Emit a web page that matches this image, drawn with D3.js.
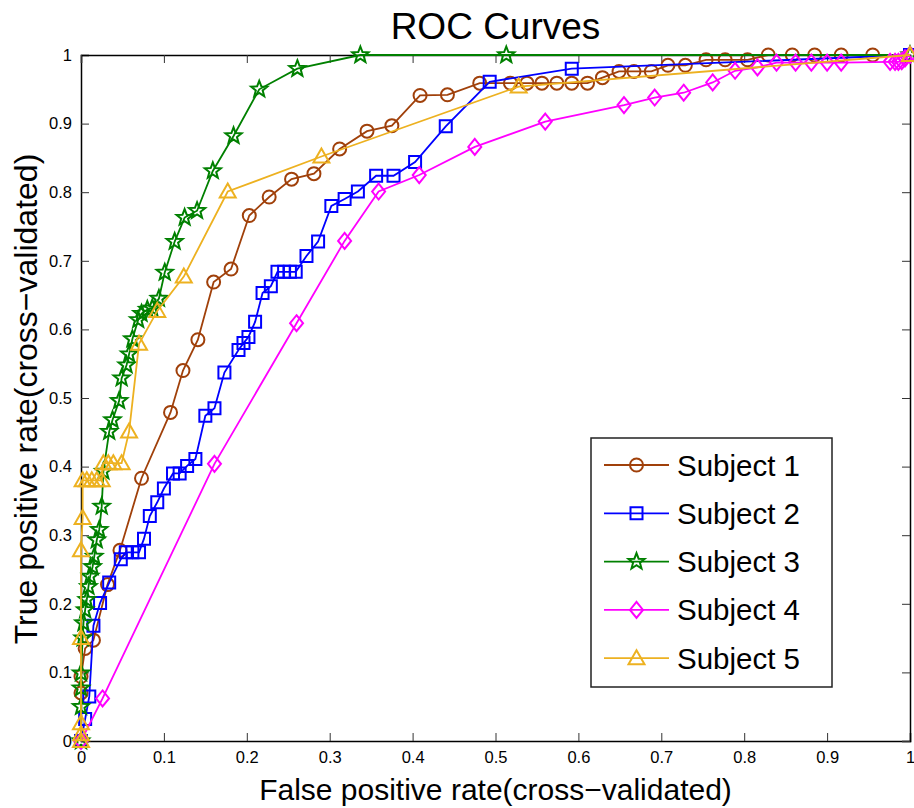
<!DOCTYPE html>
<html>
<head>
<meta charset="utf-8">
<script src="https://cdn.jsdelivr.net/npm/d3@7"></script>
<style>
  body { margin: 0; background: #fff; }
  text { font-family: "Liberation Sans", Arial, Helvetica, sans-serif; }
</style>
</head>
<body>
<div id="chart"></div>
<script>
// ROC points (false positive rate, true positive rate)
var s1x = [0, 0, 0, 0.005, 0.015, 0.032, 0.047, 0.073, 0.108, 0.123, 0.141, 0.160, 0.181, 0.203, 0.227, 0.254, 0.281, 0.312, 0.345, 0.375, 0.409, 0.442, 0.481, 0.518, 0.538, 0.556, 0.574, 0.592, 0.611, 0.629, 0.649, 0.667, 0.688, 0.708, 0.729, 0.754, 0.777, 0.804, 0.829, 0.858, 0.885, 0.917, 0.955, 1];
var s1y = [0, 0.070, 0.094, 0.135, 0.147, 0.228, 0.278, 0.383, 0.479, 0.540, 0.585, 0.669, 0.688, 0.766, 0.793, 0.819, 0.827, 0.863, 0.889, 0.897, 0.941, 0.942, 0.959, 0.959, 0.959, 0.959, 0.959, 0.959, 0.959, 0.967, 0.976, 0.976, 0.976, 0.985, 0.985, 0.993, 0.993, 0.993, 1, 1, 1, 1, 1, 1];

var s2x = [0, 0.005, 0.010, 0.015, 0.023, 0.034, 0.048, 0.054, 0.062, 0.070, 0.076, 0.083, 0.092, 0.100, 0.111, 0.119, 0.128, 0.138, 0.150, 0.161, 0.173, 0.190, 0.196, 0.202, 0.210, 0.219, 0.229, 0.237, 0.245, 0.252, 0.259, 0.272, 0.286, 0.302, 0.318, 0.334, 0.356, 0.377, 0.403, 0.440, 0.493, 0.592, 1];
var s2y = [0, 0.032, 0.065, 0.168, 0.201, 0.231, 0.265, 0.275, 0.275, 0.275, 0.295, 0.328, 0.348, 0.368, 0.390, 0.390, 0.401, 0.411, 0.474, 0.485, 0.537, 0.570, 0.580, 0.589, 0.611, 0.653, 0.663, 0.684, 0.684, 0.684, 0.684, 0.707, 0.728, 0.780, 0.790, 0.801, 0.824, 0.824, 0.844, 0.896, 0.961, 0.980, 1];

var s3x = [0, 0, 0, 0, 0.002, 0.003, 0.005, 0.007, 0.009, 0.011, 0.014, 0.016, 0.019, 0.022, 0.025, 0.027, 0.034, 0.038, 0.046, 0.049, 0.055, 0.058, 0.062, 0.069, 0.073, 0.080, 0.086, 0.094, 0.101, 0.113, 0.125, 0.140, 0.159, 0.184, 0.215, 0.261, 0.337, 0.513, 1];
var s3y = [0, 0.050, 0.077, 0.099, 0.150, 0.172, 0.191, 0.206, 0.225, 0.240, 0.254, 0.269, 0.293, 0.308, 0.342, 0.393, 0.451, 0.468, 0.496, 0.529, 0.548, 0.564, 0.586, 0.614, 0.623, 0.629, 0.631, 0.645, 0.683, 0.728, 0.763, 0.773, 0.831, 0.882, 0.950, 0.980, 1, 1, 1];

var s4x = [0, 0.026, 0.161, 0.260, 0.318, 0.359, 0.408, 0.475, 0.560, 0.655, 0.692, 0.727, 0.762, 0.789, 0.816, 0.839, 0.862, 0.881, 0.900, 0.917, 0.976, 0.982, 0.986, 0.990, 0.994, 1];
var s4y = [0, 0.062, 0.404, 0.609, 0.729, 0.801, 0.825, 0.866, 0.903, 0.927, 0.938, 0.945, 0.960, 0.977, 0.982, 0.989, 0.989, 0.989, 0.989, 0.989, 0.990, 0.990, 0.990, 0.991, 0.995, 1];

var s5x = [0, 0, 0, 0, 0, 0.002, 0.002, 0.007, 0.013, 0.019, 0.025, 0.027, 0.033, 0.039, 0.049, 0.058, 0.070, 0.092, 0.124, 0.177, 0.290, 0.528, 1];
var s5y = [0, 0.010, 0.026, 0.150, 0.278, 0.325, 0.380, 0.380, 0.380, 0.380, 0.380, 0.405, 0.405, 0.405, 0.405, 0.451, 0.579, 0.627, 0.677, 0.801, 0.852, 0.954, 1];

var names = ["Subject 1", "Subject 2", "Subject 3", "Subject 4", "Subject 5"];
var colors = ["#A0400A", "#0000FF", "#008000", "#FF00FF", "#EDB120"];
var markers = ["circle", "square", "star", "diamond", "triangle"];

var tickVals = [0, 0.1, 0.2, 0.3, 0.4, 0.5, 0.6, 0.7, 0.8, 0.9, 1];
var tickLabels = ["0", "0.1", "0.2", "0.3", "0.4", "0.5", "0.6", "0.7", "0.8", "0.9", "1"];

var series = [[s1x, s1y], [s2x, s2y], [s3x, s3y], [s4x, s4y], [s5x, s5y]].map(function (p, i) {
  return {
    name: names[i], color: colors[i], marker: markers[i],
    pts: p[0].map(function (x, j) { return {x: x, y: p[1][j]}; })
  };
});

var W = 914, H = 808;
var margin = {top: 55, right: 4, bottom: 67, left: 81};
var width = W - margin.left - margin.right,
    height = H - margin.top - margin.bottom;

var svg = d3.select("#chart").append("svg")
  .attr("width", W).attr("height", H);
var g = svg.append("g")
  .attr("transform", "translate(" + margin.left + "," + margin.top + ")");

var x = d3.scaleLinear().domain([0, 1]).range([0, width]);
var y = d3.scaleLinear().domain([0, 1]).range([height, 0]);
var fmt = function (d) { return tickLabels[tickVals.indexOf(d)]; };

// marker shapes
function markerPath(type) {
  var p = d3.path();
  if (type === "circle") {
    p.arc(0, 0, 6.5, 0, 2 * Math.PI);
  } else if (type === "square") {
    p.rect(-6, -6, 12, 12);
  } else if (type === "diamond") {
    p.moveTo(0, -8); p.lineTo(6.5, 0); p.lineTo(0, 8); p.lineTo(-6.5, 0); p.closePath();
  } else if (type === "triangle") {
    p.moveTo(0, -8); p.lineTo(8, 6); p.lineTo(-8, 6); p.closePath();
  } else if (type === "star") {
    for (var k = 0; k < 10; k++) {
      var r = k % 2 === 0 ? 8.5 : 3.6;
      var a = -Math.PI / 2 + k * Math.PI / 5;
      if (k === 0) p.moveTo(r * Math.cos(a), r * Math.sin(a));
      else p.lineTo(r * Math.cos(a), r * Math.sin(a));
    }
    p.closePath();
  }
  return p.toString();
}

// axes (ticks inward, box on all four sides)
g.append("g")
  .attr("transform", "translate(0," + height + ")")
  .call(d3.axisBottom(x).tickValues(tickVals).tickFormat(fmt).tickSize(-8).tickPadding(10))
  .call(function (a) { a.selectAll("text").attr("font-size", 16.5).attr("fill", "#000"); });
g.append("g")
  .call(d3.axisLeft(y).tickValues(tickVals).tickFormat(fmt).tickSize(-8).tickPadding(9))
  .call(function (a) { a.selectAll("text").attr("font-size", 16.5).attr("fill", "#000"); });
g.append("g")
  .call(d3.axisTop(x).tickValues(tickVals).tickFormat("").tickSize(-8));
g.append("g")
  .attr("transform", "translate(" + width + ",0)")
  .call(d3.axisRight(y).tickValues(tickVals).tickFormat("").tickSize(-8));
g.selectAll(".domain").attr("stroke", "#000").attr("stroke-width", 1.5);
g.selectAll(".tick line").attr("stroke", "#333").attr("stroke-width", 1);

// lines and markers
var line = d3.line().x(function (d) { return x(d.x); }).y(function (d) { return y(d.y); });

series.forEach(function (s) {
  var sg = g.append("g");
  sg.append("path")
    .datum(s.pts)
    .attr("d", line)
    .attr("fill", "none")
    .attr("stroke", s.color)
    .attr("stroke-width", 1.8);
  sg.selectAll("path.mk")
    .data(s.pts)
    .enter().append("path")
    .attr("class", "mk")
    .attr("d", markerPath(s.marker))
    .attr("transform", function (d) { return "translate(" + x(d.x) + "," + y(d.y) + ")"; })
    .attr("fill", "none")
    .attr("stroke", s.color)
    .attr("stroke-width", 2);
});

// title and axis labels
svg.append("text")
  .attr("x", margin.left + width / 2).attr("y", 39)
  .attr("text-anchor", "middle").attr("font-size", 37)
  .text("ROC Curves");
svg.append("text")
  .attr("x", margin.left + width / 2).attr("y", 800)
  .attr("text-anchor", "middle").attr("font-size", 30)
  .text("False positive rate(cross\u2212validated)");
svg.append("text")
  .attr("transform", "translate(37," + (399) + ") rotate(-90)")
  .attr("text-anchor", "middle").attr("font-size", 32)
  .text("True positive rate(cross\u2212validated)");

// legend
var lg = svg.append("g").attr("transform", "translate(591,438)");
lg.append("rect")
  .attr("width", 241).attr("height", 249)
  .attr("fill", "#fff").attr("stroke", "#222").attr("stroke-width", 1.5);
series.forEach(function (s, i) {
  var row = lg.append("g").attr("transform", "translate(0," + (27 + i * 48.3) + ")");
  row.append("line")
    .attr("x1", 13).attr("x2", 78)
    .attr("stroke", s.color).attr("stroke-width", 1.8);
  row.append("path")
    .attr("d", markerPath(s.marker))
    .attr("transform", "translate(45.5,0)")
    .attr("fill", "none").attr("stroke", s.color).attr("stroke-width", 2);
  row.append("text")
    .attr("x", 86).attr("y", 10.5)
    .attr("font-size", 29.5)
    .text(s.name);
});
</script>
</body>
</html>
